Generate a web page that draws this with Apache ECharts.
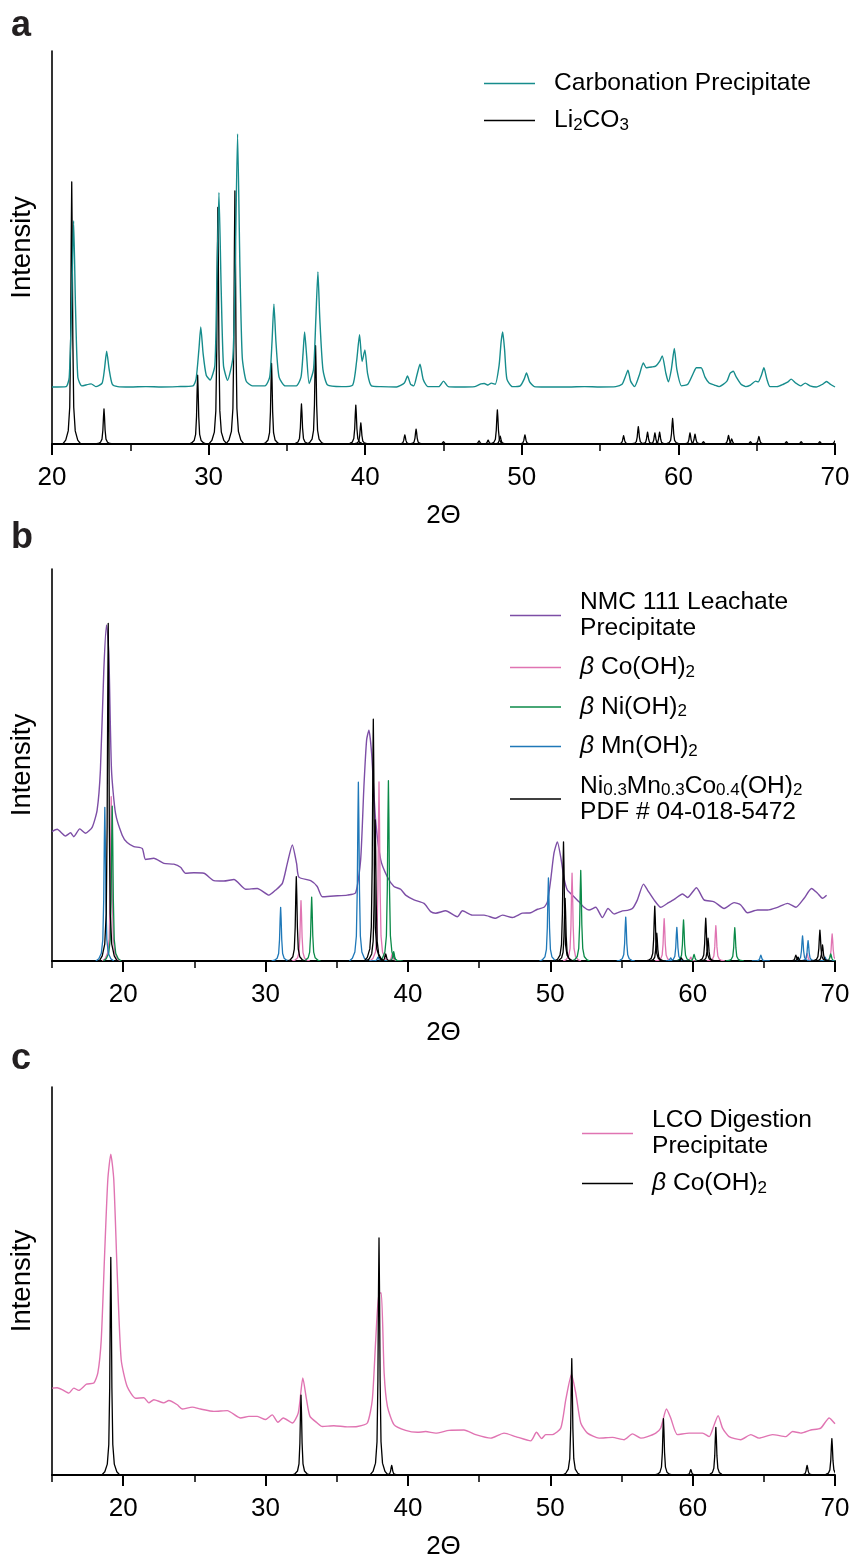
<!DOCTYPE html>
<html>
<head>
<meta charset="utf-8">
<script src="https://cdn.jsdelivr.net/npm/echarts@6/dist/echarts.min.js"></script>
<style>html,body{margin:0;padding:0;background:#fff}#chart{width:855px;height:1568px}</style>
</head>
<body>
<div id="chart"></div>
<script>
// ---------- DATA ----------
const xTickLabels = [20, 30, 40, 50, 60, 70];
const minorTicksA = [25, 35, 45, 55, 65];
const minorTicksBC = [15, 25, 35, 45, 55, 65];

// Panel a: Carbonation Precipitate (measured, [2theta, intensity])
const carbonationCurve = [[20.0,14.5],[20.9,14.6],[21.1,17],[21.25,35],[21.38,56.8],[21.5,35],[21.65,17],[21.9,14.8],[22.5,15.3],[22.8,14.6],[23.2,15.5],[23.35,19],[23.49,23.6],[23.65,19],[23.85,15.2],[24.2,14.6],[25,14.5],[26,14.6],[27,14.5],[28,14.6],[29,14.8],[29.2,16.5],[29.38,24],[29.5,29.8],[29.65,23],[29.85,17.5],[30.1,16.3],[30.4,20],[30.52,40],[30.66,64],[30.8,40],[30.95,20],[31.21,16.2],[31.55,22],[31.7,45],[31.85,78.9],[32.0,45],[32.15,22],[32.4,16],[32.8,14.8],[33.6,14.8],[33.9,17],[34.05,26],[34.17,35.6],[34.3,26],[34.5,17],[34.9,14.8],[35.6,14.8],[35.9,17],[36.03,23],[36.13,28.5],[36.25,23],[36.42,15.4],[36.7,19],[36.85,32],[36.98,43.8],[37.1,32],[37.3,19],[37.6,15],[38.5,14.6],[39.2,15],[39.45,21],[39.64,27.8],[39.8,21],[39.98,23.9],[40.15,18],[40.4,14.8],[41,14.6],[42,14.5],[42.5,15.5],[42.7,17.3],[42.9,15.2],[43.1,14.8],[43.3,17.5],[43.5,20.3],[43.7,16.5],[44.0,14.6],[44.7,14.6],[45.0,16.0],[45.3,14.6],[46,14.5],[47,14.6],[47.4,15.3],[47.6,15.4],[47.85,15.0],[48.05,15.5],[48.3,15.2],[48.55,20],[48.68,26],[48.78,28.5],[48.9,24],[49.05,16.5],[49.4,14.6],[49.9,14.8],[50.15,16.5],[50.3,18.1],[50.5,15.8],[50.8,14.6],[51.5,14.5],[53,14.5],[54,14.6],[55,14.5],[56,14.6],[56.4,15.2],[56.6,17],[56.78,18.8],[56.95,16],[57.2,14.6],[57.5,17.5],[57.76,20.6],[57.95,19.4],[58.3,19.6],[58.55,19.8],[58.8,21],[58.97,22.4],[59.2,18],[59.36,15.8],[59.55,19],[59.74,24.3],[59.9,19],[60.2,14.8],[60.6,15.2],[60.95,18],[61.15,19.4],[61.45,19.4],[61.7,17],[61.96,15.5],[62.3,15.0],[62.6,14.6],[63.1,16],[63.3,18],[63.5,18.5],[63.7,17],[64.0,15.2],[64.3,14.6],[64.6,15],[64.93,16],[65.1,15.8],[65.3,17.5],[65.46,19.4],[65.65,16.5],[65.85,14.6],[66.3,14.6],[66.7,15.2],[67.0,15.8],[67.2,16.5],[67.5,15.5],[67.8,14.8],[68.1,15.5],[68.4,14.8],[68.8,14.5],[69.2,15.2],[69.46,15.9],[69.7,15.2],[70.0,14.5]];

// Panel a: Li2CO3 reference peaks ([2theta, intensity])
const li2co3Peaks = [[21.26,66.7],[23.32,8.9],[29.30,17.5],[30.59,60.2],[31.68,64.4],[34.02,20.5],[35.93,10.2],[36.83,25.0],[39.40,9.9],[39.72,5.4],[42.53,2.3],[43.25,3.8],[45.0,0.6],[47.27,0.8],[47.85,1.0],[48.44,8.7],[48.62,2.0],[50.2,2.3],[56.5,2.1],[57.44,4.4],[58.03,3.0],[58.5,2.8],[58.8,3.0],[59.63,6.5],[60.74,2.8],[61.06,2.5],[61.6,0.6],[63.2,2.2],[63.4,1.3],[64.6,0.6],[65.14,1.9],[66.9,0.6],[67.84,0.6],[69.03,0.6],[70.0,0.8]];

// Panel b: NMC 111 Leachate Precipitate (measured)
const nmcCurve = [[15.0,33.0],[15.36,33.6],[15.95,31.9],[16.3,32.7],[16.53,31.7],[16.95,33.7],[17.35,32.6],[17.82,34.1],[18.17,38.5],[18.4,48.7],[18.64,74.2],[18.83,85.7],[18.99,78.5],[19.18,48.7],[19.46,37.7],[19.93,32.1],[20.28,30.2],[20.75,29.2],[21.34,28.7],[21.57,25.9],[22.15,26.2],[22.86,24.9],[23.56,24.7],[24.03,23.9],[24.38,22.4],[24.97,22.5],[25.67,22.4],[26.37,20.5],[27.07,20.4],[27.78,20.8],[28.6,18.3],[29.42,18.5],[30.24,16.8],[30.71,18.1],[31.18,19.8],[31.53,24.9],[31.88,29.6],[32.18,24.9],[32.34,21.4],[33.17,20.5],[33.63,19.0],[33.99,16.4],[34.8,16.6],[35.74,16.8],[36.33,17.4],[36.68,25.8],[36.91,44.5],[37.1,56.4],[37.26,58.9],[37.45,53.0],[37.73,36.0],[38.09,25.8],[38.55,21.5],[39.02,19.0],[39.49,18.3],[39.84,16.8],[40.43,15.6],[41.13,14.7],[41.6,12.6],[41.95,12.2],[42.65,12.8],[43.47,11.3],[43.83,12.8],[44.53,11.7],[45.35,11.7],[46.17,10.9],[46.64,11.7],[47.34,11.1],[48.04,12.2],[48.63,12.3],[49.1,13.2],[49.56,13.7],[49.8,15.1],[50.03,20.7],[50.26,27.5],[50.5,30.4],[50.73,26.6],[50.97,21.1],[51.2,18.1],[51.56,16.8],[52.02,15.1],[52.37,13.7],[52.72,13.0],[53.19,13.7],[53.66,11.1],[54.06,13.4],[54.48,12.0],[55.07,12.8],[55.42,12.9],[55.77,13.4],[56.12,15.6],[56.55,19.6],[56.83,18.1],[57.29,15.6],[57.76,13.7],[58.23,14.7],[58.7,15.7],[59.29,17.1],[59.64,16.2],[60.27,18.7],[60.8,15.6],[61.51,15.1],[62.21,13.4],[62.91,14.9],[63.38,14.3],[63.85,12.3],[64.56,13.0],[65.26,13.0],[65.96,13.7],[66.67,14.7],[67.25,13.7],[67.83,16.0],[68.35,18.5],[68.77,17.3],[69.12,16.0],[69.41,16.8]];

// Panel b: reference peaks
const coOH2PeaksB = [[19.16,41.9],[32.49,15.4],[37.97,45.7],[38.9,1.9],[51.53,22.4],[58.0,10.8],[59.87,1.0],[61.63,9.0],[68.04,1.9],[69.8,6.9]];
const niOH2Peaks = [[19.23,39.5],[33.24,16.3],[38.63,46.0],[39.0,2.4],[52.14,23.1],[59.36,10.5],[60.1,1.7],[62.96,8.5],[69.7,1.8]];
const mnOH2Peaks = [[18.71,39.2],[31.06,13.7],[36.52,45.6],[37.9,1.0],[49.87,21.2],[55.3,11.2],[58.46,0.8],[58.89,8.6],[64.79,1.5],[67.72,6.4],[68.11,5.2],[69.3,1.0]];
const nmcRefPeaks = [[18.95,86.1],[32.16,21.5],[37.57,61.7],[37.7,36.0],[38.44,1.8],[50.93,30.4],[51.04,16.0],[57.34,14.0],[57.48,7.1],[59.2,0.8],[60.92,10.9],[61.08,5.8],[67.25,1.5],[67.4,1.0],[68.94,7.9],[69.12,4.1]];

// Panel c: LCO Digestion Precipitate (measured)
const lcoCurve = [[15.01,22.4],[15.36,22.5],[15.72,22.0],[16.18,21.1],[16.53,22.4],[16.88,21.8],[17.42,23.4],[17.94,23.7],[18.22,26.3],[18.46,34.9],[18.69,56.3],[18.92,76.1],[19.13,82.7],[19.34,76.1],[19.58,52.1],[19.86,29.7],[20.28,22.8],[20.87,19.8],[21.45,19.9],[21.8,18.6],[22.15,19.4],[22.86,18.6],[23.21,19.2],[23.8,18.1],[24.15,17.0],[24.85,17.5],[25.44,17.0],[26.37,16.4],[27.31,16.6],[28.25,14.7],[28.83,15.1],[29.42,15.1],[30.0,14.3],[30.47,15.5],[30.87,13.6],[31.25,14.7],[31.88,13.4],[32.3,16.0],[32.62,25.0],[32.88,19.4],[33.12,15.1],[33.63,13.4],[33.99,12.5],[34.8,12.7],[35.74,12.4],[36.45,12.5],[37.15,13.4],[37.5,19.4],[37.74,34.9],[37.97,46.9],[38.13,46.9],[38.33,26.3],[38.56,17.7],[39.02,13.0],[39.84,11.5],[40.67,11.0],[41.25,11.2],[41.95,10.8],[42.89,11.5],[43.94,11.6],[44.76,10.4],[45.82,9.5],[46.75,10.8],[47.57,9.9],[48.63,8.8],[49.03,11.0],[49.4,9.4],[49.68,10.4],[50.15,10.4],[50.74,12.1],[51.09,19.4],[51.49,25.9],[51.79,21.1],[52.14,13.4],[52.61,10.8],[53.43,9.5],[54.37,9.7],[55.18,9.1],[55.77,10.6],[56.36,9.5],[56.83,9.9],[57.41,10.8],[57.76,12.1],[58.16,17.0],[58.46,14.7],[58.93,10.4],[59.75,10.8],[60.69,10.8],[61.16,9.9],[61.51,12.9],[61.79,15.3],[62.1,12.1],[62.56,9.9],[63.38,9.1],[64.09,10.4],[64.67,9.5],[65.61,10.4],[66.55,9.9],[67.02,11.2],[67.6,10.8],[68.3,11.6],[69.0,12.1],[69.59,14.7],[70.0,13.2]];
const coOH2PeaksC = [[19.13,56.1],[32.49,20.6],[37.97,61.1],[38.86,2.5],[51.51,30.0],[57.95,14.5],[59.87,1.4],[61.63,12.3],[68.04,2.5],[69.78,9.4]];

// Series names and legend labels
const NAMES = {
  carb: 'Carbonation Precipitate', li: 'Li2CO3',
  nmc: 'NMC 111 Leachate Precipitate', coB: 'β Co(OH)2 (b)', ni: 'β Ni(OH)2', mn: 'β Mn(OH)2', ref: 'Ni0.3Mn0.3Co0.4(OH)2 PDF # 04-018-5472',
  lco: 'LCO Digestion Precipitate', coC: 'β Co(OH)2 (c)'
};
const LABELS = {};
LABELS[NAMES.carb] = '{sp| }{t|Carbonation Precipitate}';
LABELS[NAMES.li] = '{sp| }{t|Li}{s|2}{t|CO}{s|3}';
LABELS[NAMES.nmc] = '{sp| }{t|NMC 111 Leachate}\n{sp| }{t|Precipitate}';
LABELS[NAMES.coB] = '{sp| }{i|β}{t| Co(OH)}{s|2}';
LABELS[NAMES.ni] = '{sp| }{i|β}{t| Ni(OH)}{s|2}';
LABELS[NAMES.mn] = '{sp| }{i|β}{t| Mn(OH)}{s|2}';
LABELS[NAMES.ref] = '{sp| }{t|Ni}{s|0.3}{t|Mn}{s|0.3}{t|Co}{s|0.4}{t|(OH)}{s|2}\n{sp| }{t|PDF # 04-018-5472}';
LABELS[NAMES.lco] = '{sp| }{t|LCO Digestion}\n{sp| }{t|Precipitate}';
LABELS[NAMES.coC] = '{sp| }{i|β}{t| Co(OH)}{s|2}';

// ---------- STYLE ----------
const FONT = 'Liberation Sans, Arial, Helvetica, sans-serif';
const C = { teal: '#168c8c', purple: '#7d4ea6', pink: '#e074b2', green: '#0b8a48', blue: '#1f78b8', black: '#000000' };
const PROFILE = [[-9,0],[-6,0.015],[-3.5,0.05],[-2,0.14],[-1.1,0.4],[-0.5,0.78],[0,1],[0.5,0.78],[1.1,0.4],[2,0.14],[3.5,0.05],[6,0.015],[9,0]];

function stick(params, api) {
  const x = api.value(0), h = api.value(1);
  const top = api.coord([x, h]);
  const base = api.coord([x, 0]);
  const H = base[1] - top[1];
  const pts = PROFILE.map(p => [top[0] + p[0], base[1] - p[1] * H]);
  return { type: 'polyline', shape: { points: pts },
    style: { stroke: api.visual('color'), fill: null, lineWidth: 1.3, lineJoin: 'round' } };
}

const grids = [
  { left: 51, top: 51, width: 784, height: 393 },
  { left: 51, top: 569, width: 784, height: 392 },
  { left: 51, top: 1087, width: 784, height: 388 }
];
const xMin = [20, 15, 15];

function mainX(g) {
  return {
    type: 'value', gridIndex: g, min: xMin[g], max: 70, position: 'bottom',
    axisLine: { show: true, onZero: false, lineStyle: { color: '#000', width: 2 } },
    axisTick: { show: true, length: 11, lineStyle: { color: '#000', width: 2 }, customValues: xTickLabels },
    axisLabel: { show: true, customValues: xTickLabels, fontSize: 26, color: '#000', margin: 21, fontFamily: FONT },
    splitLine: { show: false },
    name: '2Θ', nameLocation: 'middle', nameGap: 59,
    nameTextStyle: { fontSize: 26, color: '#000', fontFamily: FONT }
  };
}
function minorX(g) {
  return {
    type: 'value', gridIndex: g, min: xMin[g], max: 70, position: 'bottom',
    axisLine: { show: false },
    axisTick: { show: true, length: 7, lineStyle: { color: '#000', width: 1.5 }, customValues: g === 0 ? minorTicksA : minorTicksBC },
    axisLabel: { show: false }, splitLine: { show: false }
  };
}
function yAx(g) {
  return {
    type: 'value', gridIndex: g, min: 0, max: 100,
    axisLine: { show: true, onZero: false, lineStyle: { color: '#000', width: 1.6 } },
    axisTick: { show: false }, axisLabel: { show: false }, splitLine: { show: false },
    name: 'Intensity', nameLocation: 'middle', nameGap: 16, nameRotate: 90,
    nameTextStyle: { fontSize: 27.5, color: '#000', fontFamily: FONT }
  };
}

const rich = {
  sp: { width: 14, fontSize: 24.6, lineHeight: 26 },
  t: { fontSize: 24.6, lineHeight: 26, color: '#000', fontFamily: FONT },
  i: { fontSize: 24.6, lineHeight: 26, color: '#000', fontFamily: FONT, fontStyle: 'italic' },
  s: { fontSize: 17, lineHeight: 16, color: '#000', fontFamily: FONT, verticalAlign: 'bottom' }
};
function legend(left, top, gap, names) {
  return {
    orient: 'vertical', left: left, top: top, padding: 0, itemGap: gap,
    itemWidth: 51, itemHeight: 1.5, icon: 'rect', selectedMode: false,
    data: names, formatter: n => LABELS[n],
    textStyle: { fontSize: 24.6, color: '#000', fontFamily: FONT, rich: rich }
  };
}

function lineSeries(name, data, color, xi, yi, z) {
  return { type: 'line', name: name, data: data, xAxisIndex: xi, yAxisIndex: yi, symbol: 'none', showSymbol: false,
    smooth: 0.2, silent: true, z: z, lineStyle: { color: color, width: 1.4 }, itemStyle: { color: color }, animation: false };
}
function stickSeries(name, data, color, xi, yi, z) {
  return { type: 'custom', name: name, data: data, xAxisIndex: xi, yAxisIndex: yi, renderItem: stick, clip: true,
    encode: { x: 0, y: 1 }, silent: true, z: z, itemStyle: { color: color }, animation: false };
}

const option = {
  backgroundColor: '#fff',
  animation: false,
  textStyle: { fontFamily: FONT },
  grid: grids,
  xAxis: [mainX(0), mainX(1), mainX(2), minorX(0), minorX(1), minorX(2)],
  yAxis: [yAx(0), yAx(1), yAx(2)],
  legend: [
    legend(484, 71, 12, [NAMES.carb, NAMES.li]),
    legend(510, 590, 14, [NAMES.nmc, NAMES.coB, NAMES.ni, NAMES.mn, NAMES.ref]),
    legend(582, 1108, 12, [NAMES.lco, NAMES.coC])
  ],
  graphic: [
    { type: 'text', left: 11, top: 8, style: { text: 'a', fontSize: 36, fontWeight: 'bold', fill: '#231f20', fontFamily: FONT } },
    { type: 'text', left: 11, top: 520, style: { text: 'b', fontSize: 36, fontWeight: 'bold', fill: '#231f20', fontFamily: FONT } },
    { type: 'text', left: 11, top: 1041, style: { text: 'c', fontSize: 36, fontWeight: 'bold', fill: '#231f20', fontFamily: FONT } }
  ],
  series: [
    stickSeries(NAMES.li, li2co3Peaks, C.black, 0, 0, 2),
    lineSeries(NAMES.carb, carbonationCurve, C.teal, 0, 0, 3),
    lineSeries(NAMES.nmc, nmcCurve, C.purple, 1, 1, 2),
    stickSeries(NAMES.coB, coOH2PeaksB, C.pink, 1, 1, 3),
    stickSeries(NAMES.ni, niOH2Peaks, C.green, 1, 1, 3),
    stickSeries(NAMES.mn, mnOH2Peaks, C.blue, 1, 1, 3),
    stickSeries(NAMES.ref, nmcRefPeaks, C.black, 1, 1, 4),
    lineSeries(NAMES.lco, lcoCurve, C.pink, 2, 2, 2),
    stickSeries(NAMES.coC, coOH2PeaksC, C.black, 2, 2, 3)
  ]
};

const chart = echarts.init(document.getElementById('chart'), null, { renderer: 'canvas' });
chart.setOption(option);
</script>
</body>
</html>
